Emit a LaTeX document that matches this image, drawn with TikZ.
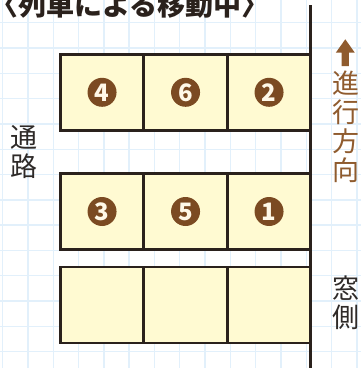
\documentclass[tikz,border=0pt]{standalone}
\usepackage{fontspec}
\newfontfamily\jp{Noto Sans CJK JP}
\definecolor{ink}{HTML}{2A211C}
\definecolor{cream}{HTML}{FFFAD2}
\definecolor{gridblue}{HTML}{E2F0FB}
\definecolor{badgebrown}{HTML}{7B4A22}
\definecolor{arrowbrown}{HTML}{8F5B2E}
\definecolor{badgetext}{HTML}{FFF8E8}
\definecolor{sidetext}{HTML}{2E2A28}
\begin{document}
\begin{tikzpicture}[x=1pt,y=-1pt,
  cell/.style={draw=ink, fill=cream, line width=2.7pt, minimum width=83.5pt, minimum height=76pt, inner sep=0pt},
  badge/.style={circle, fill=badgebrown, text=badgetext, minimum size=29pt, inner sep=0pt, font=\jp\bfseries\fontsize{24}{24}\selectfont},
  gridline/.style={draw=gridblue, line width=1.4pt},
  wallline/.style={draw=ink, line width=2.7pt},
  sidelabel/.style={align=center, inner sep=0pt, font=\jp\fontsize{27}{29}\selectfont},
  titletext/.style={anchor=base west, inner sep=0pt, text=ink, font=\jp\bfseries\fontsize{28}{28}\selectfont}]
\useasboundingbox (0,0) rectangle (361,368);
\fill[white] (0,0) rectangle (361,368);
% grid
\foreach \i in {0,...,14} \draw[gridline] (2.7+25.3*\i,0) -- (2.7+25.3*\i,368);
\foreach \j in {0,...,13} \draw[gridline] (0,22.7+25.3*\j) -- (361,22.7+25.3*\j);
% title
\node[titletext] (title) at (-10,15) {〈列車による移動中〉};
% cells
\foreach \r/\y in {1/92.3, 2/211.5, 3/305}{
  \node[cell] (c\r1) at (102.05,\y) {};
  \node[cell] (c\r2) at (185.55,\y) {};
  \node[cell] (c\r3) at (269.05,\y) {};
}
% wall
\coordinate (walltop) at (310.7,5);
\coordinate (wallbot) at (310.7,368);
\draw[wallline] (walltop) -- (wallbot);
% badges
\node[badge] (b4) at (c11) {4};
\node[badge] (b6) at (c12) {6};
\node[badge] (b2) at (c13) {2};
\node[badge] (b3) at (c21) {3};
\node[badge] (b5) at (c22) {5};
\node[badge] (b1) at (c23) {1};
% arrow
\fill[arrowbrown] (345.3,39.3) -- (354.8,52.7) -- (349,52.7) -- (349,66) -- (341.7,66) -- (341.7,52.7) -- (335.8,52.7) -- cycle;
% side labels
\node[sidelabel, text=arrowbrown] (dir) at (346,127) {進\\行\\方\\向};
\node[sidelabel, text=sidetext] (aisle) at (23.5,152.5) {通\\路};
\node[sidelabel, text=sidetext] (window) at (346,303) {窓\\側};
\end{tikzpicture}
\end{document}
